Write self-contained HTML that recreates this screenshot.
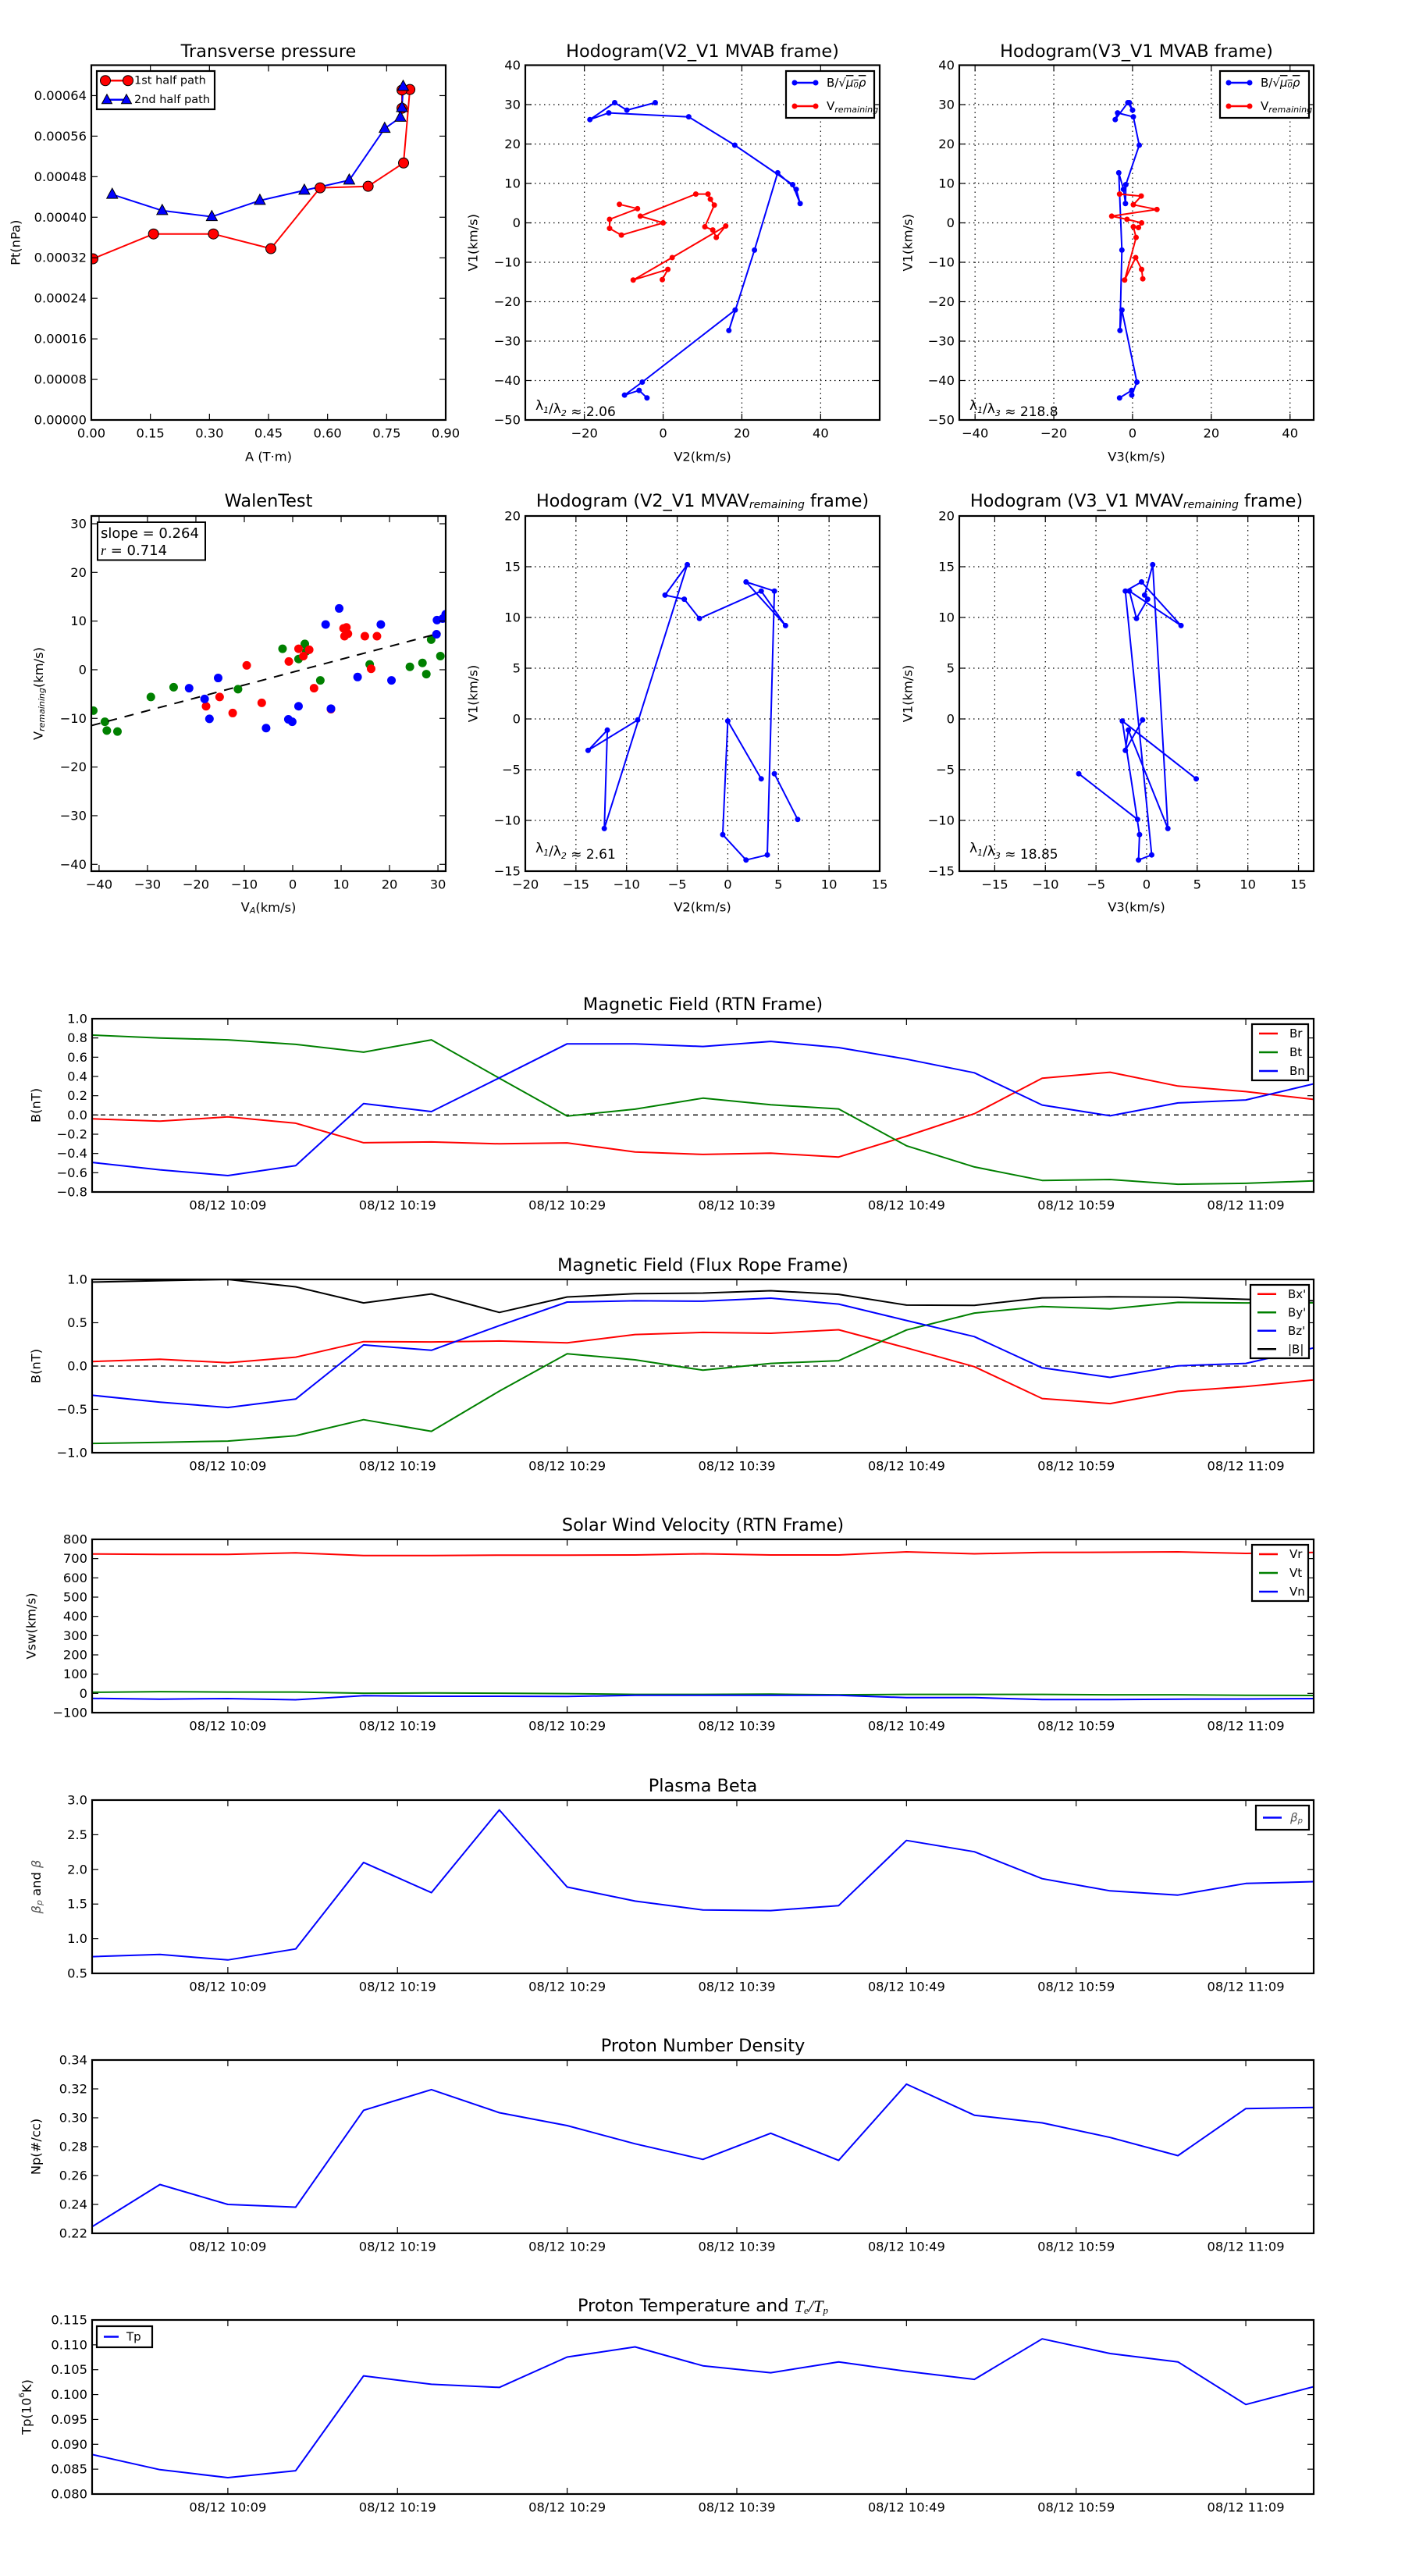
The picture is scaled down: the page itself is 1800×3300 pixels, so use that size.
<!DOCTYPE html>
<html><head><meta charset="utf-8"><title>Flux rope analysis</title>
<style>
html,body{margin:0;padding:0;background:#fff;}
svg{display:block;font-family:"DejaVu Sans","Liberation Sans",sans-serif;}
</style></head>
<body>
<svg id="fig" xmlns="http://www.w3.org/2000/svg" width="1800" height="3300" viewBox="0 0 1800 3300">
<rect x="0" y="0" width="1800" height="3300" fill="#fff"/>
</svg>
<script>
// ---------- data: transverse pressure ----------
const tpA1=[0.004,0.158,0.31,0.456,0.581,0.703,0.793,0.809,0.789,0.789];
const tpP1=[0.000318,0.000367,0.000367,0.000338,0.000458,0.000461,0.000507,0.000652,0.000651,0.000615];
const tpA2=[0.053,0.18,0.306,0.428,0.541,0.655,0.745,0.785,0.789,0.792];
const tpP2=[0.000445,0.000413,0.000401,0.000433,0.000453,0.000473,0.000575,0.000597,0.000616,0.000658];
// ---------- data: MVAB hodograms ----------
const mvabBV1=[30.5,28.6,30.5,26.2,27.9,26.9,19.7,9.7,4.9,8.5,12.7,-6.9,-27.3,-22.1,-40.4,-43.7,-42.5,-44.4];
const mvabBV2=[-2,-9.2,-12.3,-18.6,-13.8,6.5,18.2,32.9,34.8,33.8,29.1,23.2,16.7,18.3,-5.3,-9.8,-6.1,-4.1];
const mvabBV3=[-0.8,0,-1.2,-4.4,-3.8,0.2,1.7,-1.7,-1.8,-2.3,-3.5,-2.7,-3.2,-2.7,1.1,-0.2,-0.2,-3.3];
const mvabRV1=[4.7,3.6,0.9,-1.4,-3.1,0,1.7,7.3,7.3,6,4.5,-1.0,-1.8,-3.7,-0.8,-8.8,-14.5,-11.8,-14.4];
const mvabRV2=[-11.1,-6.5,-13.6,-13.6,-10.6,0,-5.8,8.3,11.4,12,13,10.6,12.6,13.5,15.9,2.3,-7.6,1.2,-0.2];
const mvabRV1b=[7.3,6.8,4.6,3.4,1.7,0.9,0,-1.2,-1.0,-3.7,-14.5,-8.8,-11.8,-14.2];
const mvabRV3=[-3.3,2.2,0.2,6.2,-5.3,-1.4,2.3,1.5,0.2,0.9,-2,0.8,2.3,2.6];
const lambdaMVAB12="2.06", lambdaMVAB13="218.8";
// ---------- data: Walen test ----------
const wGx=[-41.2,-38.8,-38.4,-36.2,-29.3,-24.6,-11.3,-2.1,1.2,2.5,2.8,5.7,15.9,24.2,26.8,27.6,28.6,30.5];
const wGy=[-8.4,-10.7,-12.5,-12.7,-5.6,-3.6,-4.0,4.3,2.2,5.3,3.8,-2.2,1.1,0.6,1.4,-0.9,6.2,2.8];
const wRx=[-17.9,-15.1,-12.4,-9.5,-6.4,-0.8,1.2,2.2,3.4,4.4,7.9,10.5,11.1,10.7,11.4,14.9,17.4,16.2];
const wRy=[-7.5,-5.6,-8.9,0.9,-6.8,1.7,4.3,2.8,4.1,-3.8,-8.1,8.5,8.7,6.9,7.4,6.9,6.9,0.2];
const wBx=[-21.4,-18.2,-17.2,-15.4,-5.5,-0.9,-0.1,1.2,6.8,9.6,13.4,7.9,18.2,20.4,29.7,29.8,31,31.6];
const wBy=[-3.8,-6.0,-10.1,-1.7,-12.0,-10.2,-10.7,-7.5,9.3,12.6,-1.5,-8.0,9.3,-2.2,7.3,10.2,10.5,11.4];
const walenSlope=0.264, walenIntercept=-0.5, walenR="0.714";
const walenFitRange=[-41.6,30.5];
// ---------- data: MVAV hodograms (null = break) ----------
const avV1=[-5.9,-0.2,-11.4,-13.9,-13.4,12.6,13.5,9.2,12.6,9.9,11.8,12.2,15.2,-10.8,-1.1,-3.1,-0.1,null,-5.4,-9.9];
const avV2=[3.3,0,-0.5,1.8,3.9,4.6,1.8,5.7,3.3,-2.8,-4.3,-6.2,-4.0,-12.2,-11.9,-13.8,-8.9,null,4.6,6.9];
const avV3=[4.9,-2.4,-0.7,-0.8,0.5,-2.1,-0.5,3.4,-1.7,-1,0.1,-0.2,0.6,2.1,-1.8,-2.1,-0.4,null,-6.7,-0.9];
const lambdaMVAV12="2.61", lambdaMVAV13="18.85";
// ---------- data: time series ----------
const sampleTimes=["10:01","10:05","10:09","10:13","10:17","10:21","10:25","10:29","10:33","10:37","10:41","10:45","10:49","10:53","10:57","11:01","11:05","11:09","11:13"];
const timeTickLabels=["08/12 10:09","08/12 10:19","08/12 10:29","08/12 10:39","08/12 10:49","08/12 10:59","08/12 11:09"];
const Br=[-0.04,-0.065,-0.02,-0.086,-0.288,-0.28,-0.30,-0.29,-0.384,-0.41,-0.397,-0.437,-0.22,0.013,0.382,0.444,0.30,0.243,0.162];
const Bt=[0.83,0.80,0.78,0.733,0.652,0.78,0.382,-0.012,0.06,0.175,0.106,0.063,-0.32,-0.54,-0.68,-0.67,-0.72,-0.71,-0.685];
const Bn=[-0.493,-0.57,-0.63,-0.527,0.119,0.035,0.385,0.739,0.739,0.711,0.764,0.70,0.58,0.438,0.103,-0.009,0.125,0.156,0.323];
const Bx=[0.052,0.079,0.038,0.103,0.282,0.278,0.289,0.268,0.364,0.388,0.378,0.419,0.21,-0.007,-0.375,-0.433,-0.292,-0.237,-0.16];
const By=[-0.893,-0.88,-0.866,-0.804,-0.619,-0.753,-0.289,0.141,0.072,-0.048,0.031,0.062,0.416,0.612,0.687,0.66,0.735,0.729,0.73];
const Bz=[-0.337,-0.416,-0.478,-0.381,0.244,0.182,0.467,0.739,0.753,0.749,0.784,0.715,0.526,0.34,-0.021,-0.131,0.003,0.031,0.21];
const Bmag=[0.969,0.986,1.0,0.914,0.729,0.832,0.619,0.797,0.835,0.842,0.869,0.828,0.704,0.701,0.787,0.8,0.794,0.77,0.753];
const Vr=[724,722,722,730,716,716,718,718,719,725,719,719,735,725,732,733,735,727,732];
const Vt=[6,9,7,7,1,2,1,-1,-5,-5,-4,-7,-5,-5,-5,-7,-7,-10,-11];
const Vn=[-26,-30,-27,-33,-12,-15,-15,-16,-10,-10,-10,-10,-22,-22,-32,-32,-30,-29,-27];
const betaP=[0.741,0.772,0.694,0.853,2.10,1.664,2.858,1.746,1.543,1.414,1.405,1.478,2.418,2.254,1.866,1.69,1.629,1.797,1.823];
const Np=[0.2246,0.2538,0.24,0.2381,0.3052,0.3195,0.3035,0.2946,0.282,0.2712,0.2893,0.2705,0.3233,0.3018,0.2965,0.2864,0.2738,0.3064,0.3072];
const Tp=[0.08794,0.0849,0.0833,0.0847,0.10376,0.10207,0.10144,0.10755,0.10959,0.10579,0.10439,0.10657,0.10467,0.10305,0.1112,0.10825,0.10657,0.098,0.10158];

// ---------- helpers ----------
const NS="http://www.w3.org/2000/svg";
const svg=document.getElementById("fig");
function mk(tag,attrs,parent){const e=document.createElementNS(NS,tag);for(const k in attrs)e.setAttribute(k,attrs[k]);(parent||svg).appendChild(e);return e;}
function lin(d0,d1,p0,p1){return v=>p0+(v-d0)*(p1-p0)/(d1-d0);}
function fmtNum(v,dec){let s=Math.abs(v).toFixed(dec);if(v<-1e-12)s="\u2212"+s;return s;}
function range(a,b,s){const r=[];for(let v=a;v<=b+s*1e-6;v+=s)r.push(+v.toFixed(6));return r;}
function toMin(t){const p=t.split(":");return (+p[0])*60+(+p[1]);}
let clipId=0;

function axes(o){
  const g=mk("g",{});
  
  
  const sx=lin(o.xd[0],o.xd[1],o.x0,o.x1), sy=lin(o.yd[0],o.yd[1],o.y1,o.y0);
  // grid
  if(o.grid){
    o.xt.forEach(v=>{const x=sx(v);if(x<=o.x0+1||x>=o.x1-1)return;
      const l=mk("line",{x1:x,x2:x,y1:o.y0,y2:o.y1,stroke:"#000","stroke-width":1.2,"stroke-dasharray":"1.5,4.5"},g);
      
      });
    o.yt.forEach(v=>{const y=sy(v);if(y<=o.y0+1||y>=o.y1-1)return;
      const l=mk("line",{x1:o.x0,x2:o.x1,y1:y,y2:y,stroke:"#000","stroke-width":1.2,"stroke-dasharray":"1.5,4.5"},g);
      
      });
  }
  // clip
  clipId++;
  const cp=mk("clipPath",{id:"clip"+clipId},g);
  mk("rect",{x:o.x0,y:o.y0,width:o.x1-o.x0,height:o.y1-o.y0},cp);
  const plot=mk("g",{"clip-path":"url(#clip"+clipId+")"},g);
  
  
  // ticks + labels
  o.xt.forEach((v,i)=>{const x=sx(v);
    const t1=mk("line",{x1:x,x2:x,y1:o.y1,y2:o.y1-8,stroke:"#000","stroke-width":1.2},g);
    
    
    const t2=mk("line",{x1:x,x2:x,y1:o.y0,y2:o.y0+8,stroke:"#000","stroke-width":1.2},g);
    
    
    const tx=mk("text",{x:x,y:o.y1+17,"text-anchor":"middle","dominant-baseline":"central","font-size":16.3},g);
    
    
    tx.textContent=o.xl?o.xl[i]:fmtNum(v,o.xdec||0);});
  o.yt.forEach(v=>{const y=sy(v);
    const t1=mk("line",{x1:o.x0,x2:o.x0+8,y1:y,y2:y,stroke:"#000","stroke-width":1.2},g);
    
    
    const t2=mk("line",{x1:o.x1,x2:o.x1-8,y1:y,y2:y,stroke:"#000","stroke-width":1.2},g);
    
    
    const tx=mk("text",{x:o.x0-6,y:y,"text-anchor":"end","dominant-baseline":"central","font-size":16.3},g);
    
    
    tx.textContent=fmtNum(v,o.ydec||0);});
  // title / labels
  const ti=mk("text",{x:(o.x0+o.x1)/2,y:o.titleY,"text-anchor":"middle","dominant-baseline":"central","font-size":22.4},g);
  
  
  ti.innerHTML=o.title;
  if(o.xlabel){const xl=mk("text",{x:(o.x0+o.x1)/2,y:o.xlabelY,"text-anchor":"middle","dominant-baseline":"central","font-size":16.3},g);
    
    
    xl.innerHTML=o.xlabel;}
  if(o.ylabel){const cy=(o.y0+o.y1)/2;
    const yl=mk("text",{x:o.ylabelX,y:cy,"text-anchor":"middle","dominant-baseline":"central","font-size":16.3,transform:"rotate(-90 "+o.ylabelX+" "+cy+")"},g);
    
    
    yl.innerHTML=o.ylabel;}
  return {g,plot,sx,sy,o};
}
function frame(a){const o=a.o;
  const r=mk("rect",{x:o.x0,y:o.y0,width:o.x1-o.x0,height:o.y1-o.y0,fill:"none",stroke:"#000","stroke-width":2.2},a.g);
  
  }
function polyline(a,xs,ys,color,name,w){
  let segs=[],cur=[];
  xs.forEach((x,i)=>{if(x===null||ys[i]===null){if(cur.length)segs.push(cur);cur=[];}else cur.push(a.sx(x).toFixed(1)+","+a.sy(ys[i]).toFixed(1));});
  if(cur.length)segs.push(cur);
  segs.forEach(s=>{const p=mk("polyline",{points:s.join(" "),fill:"none",stroke:color,"stroke-width":w||2,"stroke-linejoin":"round"},a.plot);
    
    });
}
function dots(a,xs,ys,color,r,name,stroke){
  xs.forEach((x,i)=>{if(x===null)return;
    const c=mk("circle",{cx:a.sx(x),cy:a.sy(ys[i]),r:r,fill:color,stroke:stroke||"none","stroke-width":1},a.plot);
    
    });
}
function tris(a,xs,ys,color,name){
  xs.forEach((x,i)=>{const cx=a.sx(x),cy=a.sy(ys[i]);
    const p=mk("polygon",{points:`${cx},${cy-8} ${cx-7},${cy+5} ${cx+7},${cy+5}`,fill:color,stroke:"#000","stroke-width":1},a.plot);
    
    });
}
function legend(a,x,y,w,h,entries,name){
  const g=mk("g",{},a.g);
  
  
  const r=mk("rect",{x:x,y:y,width:w,height:h,fill:"#fff",stroke:"#000","stroke-width":2.2},g);
  
  
  const step=h/entries.length;
  entries.forEach((e,i)=>{const cy=y+step*(i+0.5);
    const l=mk("line",{x1:x+9,x2:x+e.lw,y1:cy,y2:cy,stroke:e.color,"stroke-width":2.5},g);
    
    
    if(e.marker==="circle"||e.marker==="dot"){[x+11,x+e.lw-2].forEach(mx=>{const c=mk("circle",{cx:mx,cy:cy,r:e.marker==="dot"?3.5:6.5,fill:e.color,stroke:e.marker==="dot"?"none":"#000"},g);
      
      });}
    if(e.marker==="tri"){[x+13,x+e.lw-4].forEach(mx=>{const p=mk("polygon",{points:`${mx},${cy-7} ${mx-6.5},${cy+5} ${mx+6.5},${cy+5}`,fill:e.color,stroke:"#000"},g);
      
      });}
    const t=mk("text",{x:x+e.tx,y:cy,"dominant-baseline":"central","font-size":e.fs||14.5},g);
    
    
    t.innerHTML=e.label;});
}
function note(a,x,y,html,fs,name){const t=mk("text",{x:x,y:y,"font-size":fs},a.g);
  
  
  t.innerHTML=html;return t;}
const SUB=(s)=>`<tspan font-size="11" dy="4" font-style="italic">${s}</tspan><tspan dy="-4"></tspan>`;

// ---------- Panel 1: transverse pressure ----------
{const a=axes({name:"transverse-pressure-chart",x0:117,y0:83.5,x1:571,y1:538,xd:[0,0.9],yd:[0,0.0007],
  xt:range(0,0.9,0.15),xdec:2,yt:range(0,0.00064,0.00008),ydec:5,title:"Transverse pressure",titleY:66,
  xlabel:"A (T·m)",xlabelY:585,ylabel:"Pt(nPa)",ylabelX:20});
 polyline(a,tpA1,tpP1,"#ff0000","first-half-line",2);
 polyline(a,tpA2,tpP2,"#0000ff","second-half-line",2);
 dots(a,tpA1,tpP1,"#ff0000",6.5,"first-half-point","#000");
 tris(a,tpA2,tpP2,"#0000ff","second-half-point");
 frame(a);
 legend(a,124,91,151,49,[{label:"1st half path",color:"#ff0000",marker:"circle",lw:42,tx:48},{label:"2nd half path",color:"#0000ff",marker:"tri",lw:42,tx:48}],"pressure-legend");}

// ---------- Panel 2/3: MVAB hodograms ----------
const bLabel='B/√<tspan text-decoration="overline" font-style="italic">μ<tspan font-size="10" dy="3">0</tspan><tspan dy="-3">ρ</tspan></tspan>';
const vLabel='V<tspan font-size="11" dy="4" font-style="italic">remaining</tspan>';
{const a=axes({name:"hodogram-v2-v1-mvab",x0:673,y0:83.5,x1:1127,y1:538,xd:[-35,55],yd:[-50,40],grid:true,
  xt:[-20,0,20,40],yt:range(-50,40,10),title:"Hodogram(V2_V1 MVAB frame)",titleY:66,xlabel:"V2(km/s)",xlabelY:585,ylabel:"V1(km/s)",ylabelX:606});
 polyline(a,mvabBV2,mvabBV1,"#0000ff","b-hodogram-line",2);dots(a,mvabBV2,mvabBV1,"#0000ff",3.5,"b-hodogram-point");
 polyline(a,mvabRV2,mvabRV1,"#ff0000","v-hodogram-line",2);dots(a,mvabRV2,mvabRV1,"#ff0000",3.5,"v-hodogram-point");
 frame(a);
 legend(a,1007,91,113,60,[{label:bLabel,color:"#0000ff",marker:"dot",lw:40,tx:52,fs:15},{label:vLabel,color:"#ff0000",marker:"dot",lw:40,tx:52,fs:15}],"mvab-v2-legend");
 note(a,686,525,'λ'+SUB("1")+'/λ'+SUB("2")+' ≈ '+lambdaMVAB12,17,"eigenvalue-ratio");}
{const a=axes({name:"hodogram-v3-v1-mvab",x0:1229,y0:83.5,x1:1683,y1:538,xd:[-44,46],yd:[-50,40],grid:true,
  xt:[-40,-20,0,20,40],yt:range(-50,40,10),title:"Hodogram(V3_V1 MVAB frame)",titleY:66,xlabel:"V3(km/s)",xlabelY:585,ylabel:"V1(km/s)",ylabelX:1163});
 polyline(a,mvabBV3,mvabBV1,"#0000ff","b-hodogram-line",2);dots(a,mvabBV3,mvabBV1,"#0000ff",3.5,"b-hodogram-point");
 polyline(a,mvabRV3,mvabRV1b,"#ff0000","v-hodogram-line",2);dots(a,mvabRV3,mvabRV1b,"#ff0000",3.5,"v-hodogram-point");
 frame(a);
 legend(a,1563,91,114,60,[{label:bLabel,color:"#0000ff",marker:"dot",lw:40,tx:52,fs:15},{label:vLabel,color:"#ff0000",marker:"dot",lw:40,tx:52,fs:15}],"mvab-v3-legend");
 note(a,1242,525,'λ'+SUB("1")+'/λ'+SUB("3")+' ≈ '+lambdaMVAB13,17,"eigenvalue-ratio");}

// ---------- Panel 4: Walen test ----------
{const a=axes({name:"walen-test-chart",x0:117,y0:661,x1:571,y1:1116,xd:[-41.6,31.6],yd:[-41.4,31.6],
  xt:range(-40,30,10),yt:range(-40,30,10),title:"WalenTest",titleY:642,
  xlabel:'V<tspan font-size="11" dy="4" font-style="italic">A</tspan><tspan dy="-4">(km/s)</tspan>',xlabelY:1162,
  ylabel:'V<tspan font-size="11" dy="4" font-style="italic">remaining</tspan><tspan dy="-4">(km/s)</tspan>',ylabelX:49});
 dots(a,wGx,wGy,"#008000",5.5,"walen-point-green");
 dots(a,wRx,wRy,"#ff0000",5.5,"walen-point-red");
 dots(a,wBx,wBy,"#0000ff",5.5,"walen-point-blue");
 const fy=walenFitRange.map(x=>walenSlope*x+walenIntercept);
 const fl=mk("line",{x1:a.sx(walenFitRange[0]),y1:a.sy(fy[0]),x2:a.sx(walenFitRange[1]),y2:a.sy(fy[1]),stroke:"#000","stroke-width":2,"stroke-dasharray":"12,10"},a.plot);
 
 
 frame(a);
 const bx=mk("rect",{x:125,y:669,width:138,height:48.5,fill:"#fff",stroke:"#000","stroke-width":2},a.g);
 
 
 note(a,129,689,"slope = "+walenSlope.toFixed(3),18,"walen-slope");
 note(a,129,711,'<tspan font-style="italic" font-family="Liberation Serif,serif">r</tspan> = '+walenR,18,"walen-correlation");}

// ---------- Panel 5/6: MVAV hodograms ----------
{const a=axes({name:"hodogram-v2-v1-mvav",x0:673,y0:661,x1:1127,y1:1116,xd:[-20,15],yd:[-15,20],grid:true,
  xt:range(-20,15,5),yt:range(-15,20,5),title:'Hodogram (V2_V1 MVAV<tspan font-size="14" dy="5" font-style="italic">remaining</tspan><tspan dy="-5"> frame)</tspan>',titleY:642,
  xlabel:"V2(km/s)",xlabelY:1162,ylabel:"V1(km/s)",ylabelX:606});
 polyline(a,avV2,avV1,"#0000ff","v-hodogram-line",2);dots(a,avV2,avV1,"#0000ff",3.5,"v-hodogram-point");
 frame(a);
 note(a,686,1092,'λ'+SUB("1")+'/λ'+SUB("2")+' ≈ '+lambdaMVAV12,17,"eigenvalue-ratio");}
{const a=axes({name:"hodogram-v3-v1-mvav",x0:1229,y0:661,x1:1683,y1:1116,xd:[-18.5,16.5],yd:[-15,20],grid:true,
  xt:range(-15,15,5),yt:range(-15,20,5),title:'Hodogram (V3_V1 MVAV<tspan font-size="14" dy="5" font-style="italic">remaining</tspan><tspan dy="-5"> frame)</tspan>',titleY:642,
  xlabel:"V3(km/s)",xlabelY:1162,ylabel:"V1(km/s)",ylabelX:1163});
 polyline(a,avV3,avV1,"#0000ff","v-hodogram-line",2);dots(a,avV3,avV1,"#0000ff",3.5,"v-hodogram-point");
 frame(a);
 note(a,1242,1092,'λ'+SUB("1")+'/λ'+SUB("3")+' ≈ '+lambdaMVAV13,17,"eigenvalue-ratio");}

// ---------- Time series ----------
const tMin=sampleTimes.map(toMin);
const tickMin=timeTickLabels.map(s=>toMin(s.split(" ")[1]));
function tsAxes(o){return axes(Object.assign({x0:118,x1:1683,xd:[tMin[0],tMin[tMin.length-1]],xt:tickMin,xl:timeTickLabels},o));}
function zeroLine(a){const l=mk("line",{x1:a.o.x0,x2:a.o.x1,y1:a.sy(0),y2:a.sy(0),stroke:"#000","stroke-width":1.3,"stroke-dasharray":"6,5"},a.plot);
  
  }
const LE=(label,color)=>({label:label,color:color,lw:33,tx:48,fs:15});
{const a=tsAxes({name:"magnetic-field-rtn-chart",y0:1305,y1:1527,yd:[-0.8,1.0],yt:range(-0.8,1.0,0.2),ydec:1,title:"Magnetic Field (RTN Frame)",titleY:1287,ylabel:"B(nT)",ylabelX:46});
 zeroLine(a);
 polyline(a,tMin,Br,"#ff0000","br-line",2);polyline(a,tMin,Bt,"#008000","bt-line",2);polyline(a,tMin,Bn,"#0000ff","bn-line",2);
 frame(a);legend(a,1604,1312,72,72,[LE("Br","#ff0000"),LE("Bt","#008000"),LE("Bn","#0000ff")],"rtn-legend");}
{const a=tsAxes({name:"magnetic-field-flux-rope-chart",y0:1639,y1:1861,yd:[-1,1],yt:range(-1,1,0.5),ydec:1,title:"Magnetic Field (Flux Rope Frame)",titleY:1621,ylabel:"B(nT)",ylabelX:46});
 zeroLine(a);
 polyline(a,tMin,Bx,"#ff0000","bx-line",2);polyline(a,tMin,By,"#008000","by-line",2);polyline(a,tMin,Bz,"#0000ff","bz-line",2);polyline(a,tMin,Bmag,"#000000","bmag-line",2);
 frame(a);legend(a,1602,1646,75,94,[LE("Bx'","#ff0000"),LE("By'","#008000"),LE("Bz'","#0000ff"),LE("|B|","#000000")],"flux-rope-legend");}
{const a=tsAxes({name:"solar-wind-velocity-chart",y0:1972,y1:2194,yd:[-100,800],yt:range(-100,800,100),ydec:0,title:"Solar Wind Velocity (RTN Frame)",titleY:1954,ylabel:"Vsw(km/s)",ylabelX:40});
 polyline(a,tMin,Vr,"#ff0000","vr-line",2);polyline(a,tMin,Vt,"#008000","vt-line",2);polyline(a,tMin,Vn,"#0000ff","vn-line",2);
 frame(a);legend(a,1604,1979,72,72,[LE("Vr","#ff0000"),LE("Vt","#008000"),LE("Vn","#0000ff")],"velocity-legend");}
{const a=tsAxes({name:"plasma-beta-chart",y0:2306,y1:2528,yd:[0.5,3.0],yt:range(0.5,3.0,0.5),ydec:1,title:"Plasma Beta",titleY:2288,
  ylabel:'<tspan font-style="italic" fill="#555">β</tspan><tspan font-size="11" dy="4" font-style="italic" fill="#555">p</tspan><tspan dy="-4"> and </tspan><tspan font-style="italic" fill="#555">β</tspan>',ylabelX:46});
 polyline(a,tMin,betaP,"#0000ff","beta-line",2);
 frame(a);legend(a,1609,2313,68,31,[{label:'<tspan font-style="italic" fill="#555">β</tspan><tspan font-size="10" dy="4" font-style="italic" fill="#555">p</tspan>',color:"#0000ff",lw:33,tx:44,fs:15}],"beta-legend");}
{const a=tsAxes({name:"proton-density-chart",y0:2639,y1:2861,yd:[0.22,0.34],yt:range(0.22,0.34,0.02),ydec:2,title:"Proton Number Density",titleY:2621,ylabel:"Np(#/cc)",ylabelX:46});
 polyline(a,tMin,Np,"#0000ff","density-line",2);
 frame(a);}
{const a=tsAxes({name:"proton-temperature-chart",y0:2972,y1:3195,yd:[0.08,0.115],yt:range(0.08,0.115,0.005),ydec:3,
  title:'Proton Temperature and <tspan font-family="Liberation Serif,serif" font-style="italic">T<tspan font-size="13" dy="5">e</tspan><tspan dy="-5">/T</tspan><tspan font-size="13" dy="5">p</tspan></tspan>',titleY:2954,
  ylabel:'Tp(10<tspan font-size="10" dy="-6">6</tspan><tspan dy="6">K)</tspan>',ylabelX:34});
 polyline(a,tMin,Tp,"#0000ff","temperature-line",2);
 frame(a);legend(a,124,2980,71,27,[{label:"Tp",color:"#0000ff",lw:28,tx:38,fs:15}],"temperature-legend");}
</script>
</body></html>
